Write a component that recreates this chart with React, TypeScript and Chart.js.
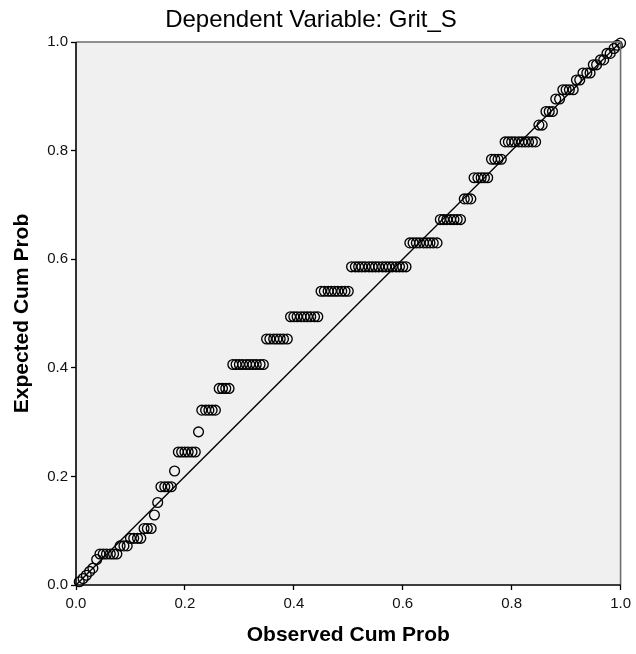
import React, { useEffect, useRef } from "react";
import { Chart, registerables } from "chart.js";

Chart.register(...registerables);

const chartTitle = "Dependent Variable: Grit_S";
const xAxisTitle = "Observed Cum Prob";
const yAxisTitle = "Expected Cum Prob";
const tickValues = [0, 0.2, 0.4, 0.6, 0.8, 1.0];
const referenceLineX = [0, 1];
const referenceLineY = [0, 1];

const observedCumProb = [
  0.006, 0.013, 0.019, 0.025, 0.031, 0.038,
  0.044, 0.05, 0.056, 0.063, 0.069, 0.075,
  0.081, 0.088, 0.094,
  0.1, 0.106, 0.113, 0.119,
  0.125, 0.131, 0.138,
  0.144,
  0.15,
  0.156, 0.163, 0.169, 0.175,
  0.181,
  0.188, 0.194, 0.2, 0.206, 0.213, 0.219,
  0.225,
  0.231, 0.238, 0.244, 0.25, 0.256,
  0.263, 0.269, 0.275, 0.281,
  0.288, 0.294, 0.3, 0.306, 0.313, 0.319, 0.325, 0.331, 0.338, 0.344,
  0.35, 0.356, 0.363, 0.369, 0.375, 0.381, 0.388,
  0.394, 0.4, 0.406, 0.413, 0.419, 0.425, 0.431, 0.438, 0.444,
  0.45, 0.456, 0.463, 0.469, 0.475, 0.481, 0.488, 0.494, 0.5,
  0.506, 0.513, 0.519, 0.525, 0.531, 0.538, 0.544, 0.55, 0.556, 0.563, 0.569, 0.575, 0.581, 0.588, 0.594, 0.6, 0.606,
  0.613, 0.619, 0.625, 0.631, 0.638, 0.644, 0.65, 0.656, 0.663,
  0.669, 0.675, 0.681, 0.688, 0.694, 0.7, 0.706,
  0.713, 0.719, 0.725,
  0.731, 0.738, 0.744, 0.75, 0.756,
  0.763, 0.769, 0.775, 0.781,
  0.788, 0.794, 0.8, 0.806, 0.813, 0.819, 0.825, 0.831, 0.838, 0.844,
  0.85, 0.856,
  0.863, 0.869, 0.875,
  0.881, 0.888,
  0.894, 0.9, 0.906, 0.913,
  0.919, 0.925,
  0.931, 0.938, 0.944,
  0.95, 0.956,
  0.963, 0.969,
  0.975, 0.981,
  0.988,
  0.994,
  1.0,
];

const expectedCumProb = [
  0.006, 0.012, 0.018, 0.025, 0.031, 0.047,
  0.057, 0.057, 0.057, 0.057, 0.057, 0.057,
  0.072, 0.072, 0.072,
  0.086, 0.086, 0.086, 0.086,
  0.104, 0.104, 0.104,
  0.129,
  0.152,
  0.181, 0.181, 0.181, 0.181,
  0.21,
  0.245, 0.245, 0.245, 0.245, 0.245, 0.245,
  0.282,
  0.322, 0.322, 0.322, 0.322, 0.322,
  0.362, 0.362, 0.362, 0.362,
  0.406, 0.406, 0.406, 0.406, 0.406, 0.406, 0.406, 0.406, 0.406, 0.406,
  0.453, 0.453, 0.453, 0.453, 0.453, 0.453, 0.453,
  0.494, 0.494, 0.494, 0.494, 0.494, 0.494, 0.494, 0.494, 0.494,
  0.541, 0.541, 0.541, 0.541, 0.541, 0.541, 0.541, 0.541, 0.541,
  0.586, 0.586, 0.586, 0.586, 0.586, 0.586, 0.586, 0.586, 0.586, 0.586, 0.586, 0.586, 0.586, 0.586, 0.586, 0.586, 0.586,
  0.63, 0.63, 0.63, 0.63, 0.63, 0.63, 0.63, 0.63, 0.63,
  0.673, 0.673, 0.673, 0.673, 0.673, 0.673, 0.673,
  0.711, 0.711, 0.711,
  0.75, 0.75, 0.75, 0.75, 0.75,
  0.784, 0.784, 0.784, 0.784,
  0.816, 0.816, 0.816, 0.816, 0.816, 0.816, 0.816, 0.816, 0.816, 0.816,
  0.847, 0.847,
  0.872, 0.872, 0.872,
  0.895, 0.895,
  0.912, 0.912, 0.912, 0.912,
  0.93, 0.93,
  0.943, 0.943, 0.943,
  0.958, 0.958,
  0.967, 0.967,
  0.979, 0.979,
  0.988,
  0.994,
  0.998,
];

const FONT = "'Liberation Sans', Arial, Helvetica, sans-serif";

const framePlugin = {
  id: "spssFrame",
  beforeDatasetsDraw(chart: any) {
    const { ctx, chartArea } = chart;
    ctx.save();
    ctx.fillStyle = "#f0f0f0";
    ctx.fillRect(chartArea.left, chartArea.top, chartArea.right - chartArea.left, chartArea.bottom - chartArea.top);
    ctx.restore();
  },
  afterDraw(chart: any) {
    const { ctx, chartArea } = chart;
    ctx.save();
    ctx.strokeStyle = "#6e6e6e";
    ctx.lineWidth = 1.6;
    ctx.beginPath();
    ctx.moveTo(chartArea.left, chartArea.top);
    ctx.lineTo(chartArea.right, chartArea.top);
    ctx.lineTo(chartArea.right, chartArea.bottom);
    ctx.stroke();
    ctx.strokeStyle = "#000";
    ctx.lineWidth = 1.6;
    ctx.beginPath();
    ctx.moveTo(chartArea.left, chartArea.top);
    ctx.lineTo(chartArea.left, chartArea.bottom);
    ctx.lineTo(chartArea.right, chartArea.bottom);
    ctx.stroke();
    ctx.restore();
  },
};

export default function App() {
  const canvasRef = useRef<HTMLCanvasElement | null>(null);

  useEffect(() => {
    if (!canvasRef.current) return;
    const points = observedCumProb.map((x, i) => ({ x, y: expectedCumProb[i] }));
    const line = referenceLineX.map((x, i) => ({ x, y: referenceLineY[i] }));

    const commonScale = {
      type: "linear" as const,
      min: 0,
      max: 1,
      afterBuildTicks: (scale: any) => {
        scale.ticks = tickValues.map((v) => ({ value: v }));
      },
      border: { display: false },
      grid: {
        display: true,
        drawOnChartArea: false,
        drawTicks: true,
        tickLength: 5,
        tickColor: "#000",
        tickWidth: 1.3,
      },
    };

    const chart = new Chart(canvasRef.current, {
      type: "scatter",
      data: {
        datasets: [
          {
            type: "line" as any,
            data: line,
            borderColor: "#000",
            borderWidth: 1.4,
            pointRadius: 0,
            fill: false,
            order: 2,
          },
          {
            data: points,
            pointStyle: "circle",
            pointRadius: 4.9,
            pointBorderWidth: 1.35,
            borderColor: "#000",
            backgroundColor: "rgba(0,0,0,0)",
            clip: false as any,
            order: 1,
          },
        ],
      },
      options: {
        animation: false,
        responsive: false,
        devicePixelRatio: 1,
        layout: { padding: { left: 0, right: 14, top: 0, bottom: 0 } },
        plugins: {
          legend: { display: false },
          tooltip: { enabled: false },
          title: {
            display: true,
            text: chartTitle,
            color: "#000",
            font: { family: FONT, size: 24, weight: "normal" },
            padding: { top: 6, bottom: 7.2 },
          },
        },
        scales: {
          x: {
            ...commonScale,
            position: "bottom",
            afterFit: (scale: any) => {
              scale.height = 69;
            },
            ticks: {
              padding: 5,
              color: "#111",
              font: { family: FONT, size: 15 },
              callback: (v: any) => Number(v).toFixed(1),
              maxRotation: 0,
            },
            title: {
              display: true,
              text: xAxisTitle,
              color: "#000",
              font: { family: FONT, size: 21, weight: "bold" },
              padding: { top: 0, bottom: 6.4 },
            },
          },
          y: {
            ...commonScale,
            position: "left",
            afterFit: (scale: any) => {
              scale.width = 76;
            },
            ticks: {
              padding: 3,
              color: "#111",
              font: { family: FONT, size: 15 },
              callback: (v: any) => Number(v).toFixed(1),
            },
            title: {
              display: true,
              text: yAxisTitle,
              color: "#000",
              font: { family: FONT, size: 21, weight: "bold" },
              padding: { top: 9.4, bottom: 0 },
            },
          },
        },
      },
      plugins: [framePlugin],
    });

    return () => chart.destroy();
  }, []);

  return (
    <div style={{ position: "absolute", left: 0, top: 0, width: 636, height: 654, background: "#fff" }}>
      <canvas ref={canvasRef} width={636} height={654} style={{ display: "block" }} />
    </div>
  );
}
